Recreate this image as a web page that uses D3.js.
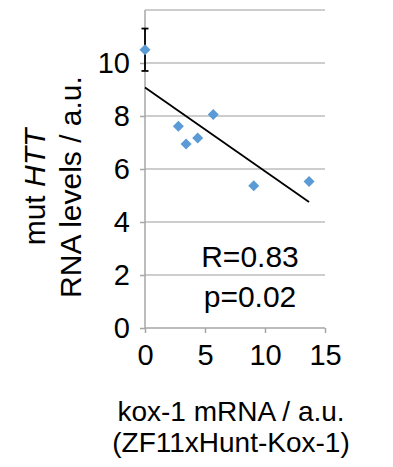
<!DOCTYPE html>
<html>
<head>
<meta charset="utf-8">
<script src="https://cdn.jsdelivr.net/npm/d3@7"></script>
<style>
  body { margin: 0; background: #fff; }
  svg { display: block; font-family: "Liberation Sans", Arial, sans-serif; }
</style>
</head>
<body>
<div id="chart"></div>
<script>
// kox-1 mRNA (x) vs mut HTT RNA levels (y)
const koxValues = [0, 2.78, 3.42, 4.39, 5.69, 9.06, 13.67];
const httValues = [10.5, 7.61, 6.94, 7.17, 8.06, 5.37, 5.53];
// error bar only on the control point (x = 0)
const errorValues = [0.8, 0, 0, 0, 0, 0, 0];
const xTicks = [0, 5, 10, 15];
const yTicks = [0, 2, 4, 6, 8, 10];
const yGrid = [2, 4, 6, 8, 10, 12];
const statLines = ["R=0.83", "p=0.02"];

const data = koxValues.map((x, i) => ({ x, y: httValues[i], err: errorValues[i] }));

const width = 393, height = 467;
const margin = { top: 10, right: 68, bottom: 139, left: 145 };
const innerW = width - margin.left - margin.right;
const innerH = height - margin.top - margin.bottom;

const xScale = d3.scaleLinear().domain([0, 15]).range([0, innerW]);
const yScale = d3.scaleLinear().domain([0, 12]).range([innerH, 0]);

const svg = d3.select("#chart").append("svg")
  .attr("width", width)
  .attr("height", height);

const chart = svg.append("g")
  .attr("transform", `translate(${margin.left},${margin.top})`);

// gridlines
chart.selectAll(".grid")
  .data(yGrid)
  .enter()
  .append("line")
  .attr("class", "grid")
  .attr("x1", 0)
  .attr("x2", innerW)
  .attr("y1", (d) => yScale(d))
  .attr("y2", (d) => yScale(d))
  .attr("stroke", "#bdbdbd")
  .attr("stroke-width", 1.5);

// axes
const xAxis = chart.append("g")
  .attr("transform", `translate(0,${innerH})`)
  .call(d3.axisBottom(xScale).tickValues(xTicks).tickSize(5).tickPadding(11));

const yAxis = chart.append("g")
  .call(d3.axisLeft(yScale).tickValues(yTicks).tickSize(5).tickPadding(10));

[xAxis, yAxis].forEach((ax) => {
  ax.select(".domain").attr("stroke", "#a6a6a6").attr("stroke-width", 1.5);
  ax.selectAll(".tick line").attr("stroke", "#a6a6a6").attr("stroke-width", 1.5);
  ax.selectAll("text")
    .attr("fill", "#000")
    .style("font-size", "29px")
    .style("font-family", "'Liberation Sans', Arial, sans-serif");
});
// domain paths without outer tick stubs
xAxis.select(".domain").attr("d", `M0,0H${innerW}`);
yAxis.select(".domain").attr("d", `M0,${innerH}V0`);

// least squares trend line over the range of data
const mx = d3.mean(data, (d) => d.x);
const my = d3.mean(data, (d) => d.y);
const slope = d3.sum(data, (d) => (d.x - mx) * (d.y - my)) / d3.sum(data, (d) => (d.x - mx) ** 2);
const intercept = my - slope * mx;
const xExt = d3.extent(data, (d) => d.x);

chart.append("line")
  .attr("x1", xScale(xExt[0]))
  .attr("y1", yScale(intercept + slope * xExt[0]))
  .attr("x2", xScale(xExt[1]))
  .attr("y2", yScale(intercept + slope * xExt[1]))
  .attr("stroke", "#000")
  .attr("stroke-width", 1.8);

// error bars
const errs = chart.selectAll(".err")
  .data(data.filter((d) => d.err > 0))
  .enter()
  .append("g")
  .attr("class", "err")
  .attr("stroke", "#000")
  .attr("stroke-width", 1.8);

errs.append("line")
  .attr("x1", (d) => xScale(d.x))
  .attr("x2", (d) => xScale(d.x))
  .attr("y1", (d) => yScale(d.y - d.err))
  .attr("y2", (d) => yScale(d.y + d.err));
[1, -1].forEach((s) => {
  errs.append("line")
    .attr("x1", (d) => xScale(d.x) - 3.5)
    .attr("x2", (d) => xScale(d.x) + 3.5)
    .attr("y1", (d) => yScale(d.y + s * d.err))
    .attr("y2", (d) => yScale(d.y + s * d.err));
});

// diamond markers
chart.selectAll(".pt")
  .data(data)
  .enter()
  .append("path")
  .attr("class", "pt")
  .attr("d", "M0,-5.5L5.5,0L0,5.5L-5.5,0Z")
  .attr("transform", (d) => `translate(${xScale(d.x)},${yScale(d.y)})`)
  .attr("fill", "#5b9bd5");

// R and p annotation
chart.selectAll(".stat")
  .data(statLines)
  .enter()
  .append("text")
  .attr("class", "stat")
  .attr("x", 105)
  .attr("y", (d, i) => 257 + i * 40)
  .attr("text-anchor", "middle")
  .style("font-size", "30px")
  .text((d) => d);

// x axis title
const xTitle = svg.append("text")
  .attr("text-anchor", "middle")
  .style("font-size", "28px");
xTitle.append("tspan").attr("x", 231).attr("y", 421).text("kox-1 mRNA / a.u.");
xTitle.append("tspan").attr("x", 231).attr("y", 452).text("(ZF11xHunt-Kox-1)");

// y axis title
const yTitle = svg.append("text")
  .attr("transform", "translate(0,187) rotate(-90)")
  .attr("text-anchor", "middle")
  .style("font-size", "30px");
const l1 = yTitle.append("tspan").attr("x", 0).attr("y", 45);
l1.append("tspan").text("mut ");
l1.append("tspan").style("font-style", "italic").text("HTT");
yTitle.append("tspan").attr("x", 0).attr("y", 81).text("RNA levels / a.u.");
</script>
</body>
</html>
